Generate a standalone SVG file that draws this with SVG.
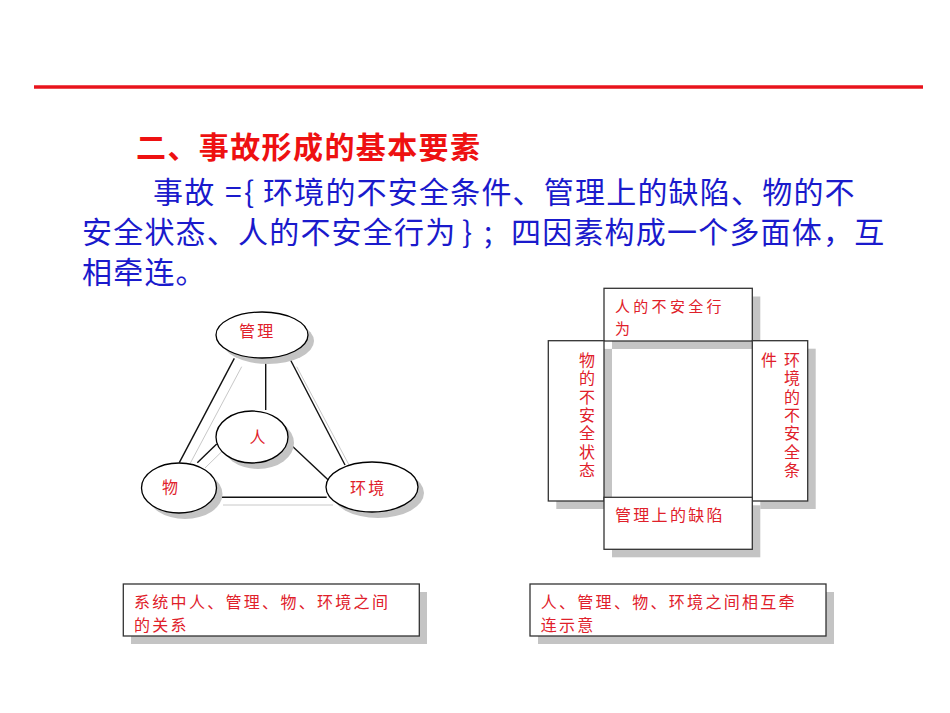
<svg xmlns="http://www.w3.org/2000/svg" width="950" height="713" viewBox="0 0 950 713">
<style>
.title{font-family:"Noto Sans CJK SC","Liberation Sans",sans-serif;font-size:30px;font-weight:bold;fill:#ee1111;letter-spacing:1.4px}
.body{font-family:"Noto Sans CJK SC","Liberation Sans",sans-serif;font-size:30px;fill:#1a1acc;letter-spacing:1.2px}
.lbl{font-family:"Noto Sans CJK SC","Liberation Sans",sans-serif;font-size:16px;fill:#e0202a;letter-spacing:2.3px}
.lbs{font-family:"Noto Sans CJK SC","Liberation Sans",sans-serif;font-size:15px;fill:#e0202a;letter-spacing:3.3px}
.vt{font-family:"Noto Sans CJK SC","Liberation Sans",sans-serif;font-size:16px;fill:#e0202a;letter-spacing:2.3px;writing-mode:vertical-rl}
.shadow{fill:#c4c4c4;stroke:none}
.node{fill:#fff;stroke:#000;stroke-width:1.3}
.box{fill:#fff;stroke:#333;stroke-width:1.3}
.ln{stroke:#111;stroke-width:1.4;fill:none}
.gl{stroke:#c8c8c8;stroke-width:1;fill:none}
</style>
<rect width="950" height="713" fill="#fff"/>
<line x1="34" y1="87" x2="923" y2="87" stroke="#e8141c" stroke-width="3.5"/>

<text class="title" x="136" y="158">二、事故形成的基本要素</text>
<text class="body" x="153" y="203">事故</text>
<text class="body" x="225" y="203">=</text>
<text class="body" x="244" y="203">{</text>
<text class="body" x="263" y="203">环境的不安全条件、管理上的缺陷、物的不</text>
<text class="body" x="82" y="243">安全状态、人的不安全行为</text>
<text class="body" x="462" y="243">}</text>
<text class="body" x="484" y="243">;</text>
<text class="body" x="511" y="243">四因素构成一个多面体，互</text>
<text class="body" x="82" y="283">相牵连。</text>

<g id="connectors">
<line class="gl" x1="241.7" y1="366.7" x2="186.7" y2="470"/>
<line class="gl" x1="296.7" y1="366.7" x2="351.7" y2="470"/>
<line class="gl" x1="221.7" y1="451.7" x2="205" y2="468"/>
<line class="gl" x1="223" y1="505" x2="333" y2="505"/>
<line class="ln" x1="265.7" y1="357" x2="265.7" y2="410"/>
<line class="ln" x1="234.3" y1="358.3" x2="179.3" y2="462.7"/>
<line class="ln" x1="290" y1="359" x2="345" y2="465"/>
<line class="ln" x1="216.7" y1="444" x2="197.3" y2="462.7"/>
<line class="ln" x1="290" y1="444" x2="328.3" y2="480"/>
<line class="ln" x1="216.7" y1="497.3" x2="326.7" y2="497.3"/>
</g>

<g id="node-guanli">
<ellipse class="shadow" cx="268" cy="341" rx="46" ry="23"/>
<ellipse class="node" cx="262" cy="335" rx="46" ry="23"/>
<text class="lbl" x="239" y="337">管理</text>
</g>
<g id="node-ren">
<ellipse class="shadow" cx="258" cy="443" rx="36" ry="26"/>
<ellipse class="node" cx="252" cy="437" rx="36" ry="26"/>
<text class="lbl" x="249.5" y="443">人</text>
</g>
<g id="node-wu">
<ellipse class="shadow" cx="185" cy="494" rx="37.5" ry="25"/>
<ellipse class="node" cx="179" cy="488" rx="37.5" ry="25"/>
<text class="lbl" x="162" y="493">物</text>
</g>
<g id="node-huanjing">
<ellipse class="shadow" cx="378" cy="493" rx="46" ry="25"/>
<ellipse class="node" cx="372" cy="487" rx="46" ry="25"/>
<text class="lbl" x="350" y="494">环境</text>
</g>

<g id="caption-left">
<rect class="shadow" x="131" y="592" width="296" height="52"/>
<rect class="box" x="123.3" y="584" width="296" height="52" stroke="#222"/>
<text class="lbl" x="134" y="608">系统中人、管理、物、环境之间<tspan x="134" y="631">的关系</tspan></text>
</g>

<g id="shadows-right">
<rect class="shadow" x="612" y="296.5" width="148.3" height="52.5"/>
<rect class="shadow" x="556.3" y="348.7" width="55.7" height="160.3"/>
<rect class="shadow" x="760.3" y="348.7" width="55.4" height="160.3"/>
<rect class="shadow" x="612" y="505.3" width="148.3" height="52"/>
<rect x="604.7" y="341.7" width="7" height="7" fill="#fff"/>
</g>
<g id="node-top">
<rect class="box" x="604" y="288.3" width="148.3" height="52.7"/>
<text class="lbs" x="615" y="312">人的不安全行<tspan x="615" y="334">为</tspan></text>
</g>
<g id="node-left">
<rect class="box" x="548.3" y="340.7" width="55.7" height="160.3"/>
<text class="vt" x="587" y="352">物的不安全状态</text>
</g>
<g id="node-right">
<rect class="box" x="752.3" y="340.7" width="55.4" height="160.3"/>
<text class="vt" x="792" y="352">环境的不安全条</text>
<text class="vt" x="769" y="352">件</text>
</g>
<g id="node-bottom">
<rect class="box" x="604" y="497.3" width="148.3" height="52"/>
<text class="lbl" x="615" y="521">管理上的缺陷</text>
</g>

<g id="caption-right">
<rect class="shadow" x="538" y="592" width="296" height="52"/>
<rect class="box" x="530" y="584" width="296" height="52" stroke="#222"/>
<text class="lbl" x="540.7" y="608">人、管理、物、环境之间相互牵<tspan x="540.7" y="631">连示意</tspan></text>
</g>
</svg>
